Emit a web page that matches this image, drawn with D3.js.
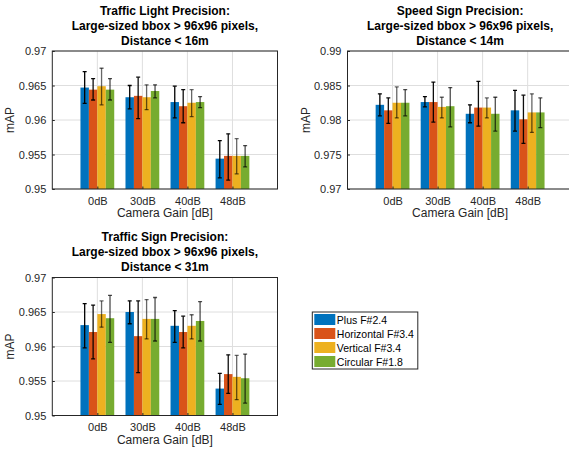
<!DOCTYPE html>
<html>
<head>
<meta charset="utf-8">
<script src="https://cdn.jsdelivr.net/npm/d3@7"></script>
<style>
    body { margin: 0; background: #fff; }
    svg { font-family: "Liberation Sans", Arial, Helvetica, sans-serif; }
</style>
</head>
<body>
<svg id="chart" width="569" height="452"></svg>
<script>
// Категории и серии
const categories = ['0dB', '30dB', '40dB', '48dB'];
const seriesNames = ['Plus F#2.4', 'Horizontal F#3.4', 'Vertical F#3.4', 'Circular F#1.8'];
const seriesColors = ['#0072BD', '#D95319', '#EDB120', '#77AC30'];
const errOpacity = [1, 0.95, 0.6, 0.7];

// Traffic light: [серия][категория]
const lightMean = [
    [0.9647, 0.9633, 0.9626, 0.9544],
    [0.9644, 0.9635, 0.9620, 0.9548],
    [0.9649, 0.9633, 0.9625, 0.9548],
    [0.9644, 0.9642, 0.9626, 0.9548]
];
const lightLow = [
    [0.9624, 0.9616, 0.9603, 0.9516],
    [0.9629, 0.9602, 0.9596, 0.9513],
    [0.9622, 0.9615, 0.9605, 0.9522],
    [0.9629, 0.9632, 0.9618, 0.9532]
];
const lightHigh = [
    [0.9670, 0.9650, 0.9649, 0.9570],
    [0.9660, 0.9662, 0.9644, 0.9580],
    [0.9675, 0.9651, 0.9644, 0.9573],
    [0.9660, 0.9651, 0.9634, 0.9563]
];

// Speed sign
const speedMean = [
    [0.9822, 0.9826, 0.9809, 0.9814],
    [0.9814, 0.9826, 0.9818, 0.9801],
    [0.9825, 0.9819, 0.9818, 0.9811],
    [0.9825, 0.9820, 0.9809, 0.9811]
];
const speedLow = [
    [0.9806, 0.9819, 0.9796, 0.9784],
    [0.9795, 0.9797, 0.9791, 0.9766],
    [0.9803, 0.9803, 0.9803, 0.9782],
    [0.9806, 0.9790, 0.9784, 0.9789]
];
const speedHigh = [
    [0.9838, 0.9834, 0.9822, 0.9843],
    [0.9832, 0.9855, 0.9856, 0.9836],
    [0.9848, 0.9833, 0.9832, 0.9838],
    [0.9844, 0.9847, 0.9833, 0.9832]
];

// Traffic sign
const signMean = [
    [0.9631, 0.9650, 0.9630, 0.9539],
    [0.9621, 0.9615, 0.9621, 0.9560],
    [0.9647, 0.9640, 0.9630, 0.9556],
    [0.9641, 0.9640, 0.9637, 0.9554]
];
const signLow = [
    [0.9598, 0.9633, 0.9606, 0.9516],
    [0.9582, 0.9562, 0.9598, 0.9532],
    [0.9628, 0.9611, 0.9611, 0.9523],
    [0.9606, 0.9608, 0.9608, 0.9518]
];
const signHigh = [
    [0.9662, 0.9666, 0.9652, 0.9561],
    [0.9660, 0.9666, 0.9644, 0.9588],
    [0.9666, 0.9668, 0.9646, 0.9587],
    [0.9674, 0.9671, 0.9665, 0.9589]
];

const lightTicks = [0.95, 0.955, 0.96, 0.965, 0.97];
const speedTicks = [0.97, 0.975, 0.98, 0.985, 0.99];
const signTicks = [0.95, 0.955, 0.96, 0.965, 0.97];

const svg = d3.select('#chart');
const axisColor = '#262626';

// Отрисовка одной панели
function drawPanel(opt) {
    const { left, top, width, height } = opt;
    const g = svg.append('g');

    const x = d3.scaleLinear().domain([0, 5]).range([left, left + width]);
    const y = d3.scaleLinear().domain([opt.ticks[0], opt.ticks[opt.ticks.length - 1]]).range([top + height, top]);
    const groupW = (x(1) - x(0)) * 0.75;
    const inner = d3.scaleBand().domain(d3.range(seriesNames.length)).range([-groupW / 2, groupW / 2]);

    // Клип на случай, если панель выходит за край
    const clipId = 'clip' + Math.round(left) + '_' + Math.round(top);
    svg.append('clipPath').attr('id', clipId)
        .append('rect').attr('x', left).attr('y', top - 2).attr('width', width).attr('height', height + 4);

    // Сетка
    g.selectAll('.hgrid').data(opt.ticks).enter().append('line')
        .attr('x1', left).attr('x2', left + width)
        .attr('y1', d => y(d)).attr('y2', d => y(d))
        .attr('stroke', '#dedede').attr('stroke-width', 1);
    g.selectAll('.vgrid').data(categories).enter().append('line')
        .attr('x1', (d, i) => x(i + 1)).attr('x2', (d, i) => x(i + 1))
        .attr('y1', top).attr('y2', top + height)
        .attr('stroke', '#dedede').attr('stroke-width', 1);

    // Столбцы
    const plot = g.append('g').attr('clip-path', `url(#${clipId})`);
    opt.mean.forEach((vals, s) => {
        plot.selectAll('.bar' + s).data(vals).enter().append('rect')
            .attr('x', (d, i) => x(i + 1) + inner(s))
            .attr('width', inner.bandwidth())
            .attr('y', d => y(d))
            .attr('height', d => y.range()[0] - y(d))
            .attr('fill', seriesColors[s]);
    });

    // Планки погрешностей
    opt.mean.forEach((vals, s) => {
        const eb = plot.selectAll('.err' + s).data(vals).enter().append('g')
            .attr('stroke', '#000').attr('stroke-opacity', errOpacity[s]).attr('stroke-width', 1.3);
        const cx = i => x(i + 1) + inner(s) + inner.bandwidth() / 2;
        eb.append('line')
            .attr('x1', (d, i) => cx(i)).attr('x2', (d, i) => cx(i))
            .attr('y1', (d, i) => y(opt.low[s][i])).attr('y2', (d, i) => y(opt.high[s][i]));
        eb.append('line')
            .attr('x1', (d, i) => cx(i) - 2).attr('x2', (d, i) => cx(i) + 2)
            .attr('y1', (d, i) => y(opt.low[s][i])).attr('y2', (d, i) => y(opt.low[s][i]));
        eb.append('line')
            .attr('x1', (d, i) => cx(i) - 2).attr('x2', (d, i) => cx(i) + 2)
            .attr('y1', (d, i) => y(opt.high[s][i])).attr('y2', (d, i) => y(opt.high[s][i]));
    });

    // Рамка осей
    g.append('rect')
        .attr('x', left).attr('y', top).attr('width', width).attr('height', height)
        .attr('fill', 'none').attr('stroke', axisColor).attr('stroke-width', 1);

    // Ось Y
    const yAxis = d3.axisLeft(y).tickValues(opt.ticks).tickSizeInner(-2.5).tickSizeOuter(0).tickPadding(6)
        .tickFormat(d => d3.format('')(+d.toFixed(3)));
    g.append('g').attr('transform', `translate(${left},0)`).call(yAxis)
        .call(a => a.select('.domain').remove())
        .call(a => a.selectAll('line').attr('stroke', axisColor))
        .call(a => a.selectAll('text').attr('fill', axisColor).attr('font-size', 11)
            .style('font-family', '"Liberation Sans", Arial, sans-serif'));

    // Ось X
    const xAxis = d3.axisBottom(x).tickValues([1, 2, 3, 4]).tickSizeInner(-2.5).tickSizeOuter(0).tickPadding(8)
        .tickFormat(d => categories[d - 1]);
    g.append('g').attr('transform', `translate(0,${top + height})`).call(xAxis)
        .call(a => a.select('.domain').remove())
        .call(a => a.selectAll('line').attr('stroke', axisColor))
        .call(a => a.selectAll('text').attr('fill', axisColor).attr('font-size', 11)
            .style('font-family', '"Liberation Sans", Arial, sans-serif'));

    // Подписи осей
    const midX = left + width / 2;
    g.append('text')
        .attr('x', midX).attr('y', top + height + 28)
        .attr('text-anchor', 'middle').attr('font-size', 12).attr('fill', axisColor)
        .text('Camera Gain [dB]');
    g.append('text')
        .attr('transform', `translate(${left - 38},${top + height / 2}) rotate(-90)`)
        .attr('text-anchor', 'middle').attr('font-size', 12).attr('fill', axisColor)
        .text('mAP');

    // Заголовок
    opt.title.forEach((line, i) => {
        g.append('text')
            .attr('x', midX).attr('y', top - 6.5 - (opt.title.length - 1 - i) * 14.8)
            .attr('text-anchor', 'middle').attr('font-size', 12).attr('font-weight', 'bold')
            .attr('fill', '#000')
            .text(line);
    });
}

// Легенда
function drawLegend(left, top) {
    const rowH = 14;
    const g = svg.append('g');
    g.append('rect')
        .attr('x', left).attr('y', top).attr('width', 105.5).attr('height', 57)
        .attr('fill', '#fff').attr('stroke', axisColor).attr('stroke-width', 1);
    const rows = g.selectAll('.leg').data(seriesNames).enter().append('g')
        .attr('transform', (d, i) => `translate(${left},${top + 7.5 + i * rowH})`);
    rows.append('rect')
        .attr('x', 2).attr('y', -5.5).attr('width', 21).attr('height', 11)
        .attr('fill', (d, i) => seriesColors[i]);
    rows.append('text')
        .attr('x', 24.5).attr('y', 4)
        .attr('font-size', 10.5).attr('fill', '#000')
        .text(d => d);
}

drawPanel({
    left: 52.3, top: 51, width: 225.2, height: 138,
    ticks: lightTicks, mean: lightMean, low: lightLow, high: lightHigh,
    title: ['Traffic Light Precision:', 'Large-sized bbox > 96x96 pixels,', 'Distance < 16m']
});
drawPanel({
    left: 347.5, top: 51, width: 225.2, height: 138,
    ticks: speedTicks, mean: speedMean, low: speedLow, high: speedHigh,
    title: ['Speed Sign Precision:', 'Large-sized bbox > 96x96 pixels,', 'Distance < 14m']
});
drawPanel({
    left: 52.3, top: 277.5, width: 225.2, height: 138,
    ticks: signTicks, mean: signMean, low: signLow, high: signHigh,
    title: ['Traffic Sign Precision:', 'Large-sized bbox > 96x96 pixels,', 'Distance < 31m']
});
drawLegend(312.3, 312);
</script>
</body>
</html>
